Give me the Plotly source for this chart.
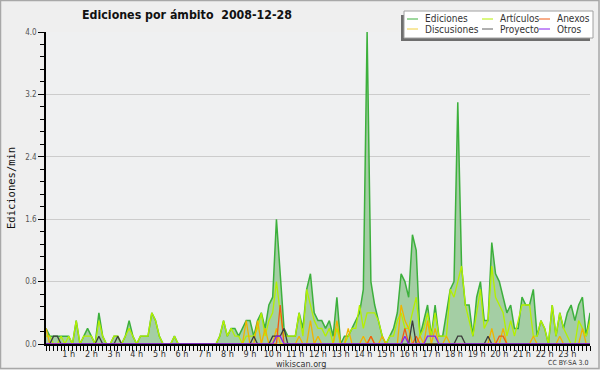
import plotly.graph_objects as go

# ---------------- data (10-minute bins, 00:00 .. 24:00) ----------------
n_points = 145
hours = [i / 6 for i in range(n_points)]

ediciones = [
    0.2, 0.1, 0.1, 0.1, 0.1, 0.1, 0.1, 0, 0.3, 0, 0.1, 0.2, 0.1, 0, 0.4, 0.1, 0, 0, 0.1, 0.1, 0, 0.1, 0.3, 0.1,
    0, 0.1, 0.1, 0.1, 0.4, 0.3, 0.1, 0, 0, 0, 0.1, 0, 0, 0, 0, 0, 0, 0, 0, 0, 0, 0, 0.1, 0.3,
    0.1, 0.2, 0.2, 0.1, 0.2, 0.3, 0.3, 0.1, 0.3, 0.4, 0.2, 0.5, 0.6, 1.6, 0.9, 0.2, 0.1, 0.1, 0.1, 0.4, 0.2, 0.7, 0.9, 0.4,
    0.3, 0.3, 0.2, 0.3, 0.1, 0.6, 0, 0.1, 0.1, 0.2, 0.3, 0.4, 0.7, 4.0, 0.8, 0.5, 0.3, 0.1, 0, 0.1, 0.2, 0.4, 0.9, 0.8,
    0.6, 1.4, 1.2, 0.1, 0.3, 0.5, 0.1, 0.5, 0.1, 0.1, 0.4, 0.7, 0.8, 3.1, 1.0, 0.5, 0.5, 0.1, 0.6, 0.8, 0.3, 0.3, 1.3, 0.9,
    0.8, 0.6, 0.4, 0.5, 0.2, 0.2, 0.6, 0.5, 0.5, 0.7, 0.1, 0.3, 0.2, 0, 0.5, 0.1, 0.4, 0.2, 0.4, 0.5, 0.3, 0.5, 0.6, 0.1,
    0.4,
]

articulos = [
    0.1, 0.1, 0, 0, 0.1, 0, 0.1, 0, 0.3, 0, 0.1, 0.1, 0.1, 0, 0.3, 0.1, 0, 0, 0.1, 0.1, 0, 0.1, 0.2, 0.1,
    0, 0.1, 0.1, 0.1, 0.4, 0.3, 0.1, 0, 0, 0, 0.1, 0, 0, 0, 0, 0, 0, 0, 0, 0, 0, 0, 0.1, 0.3,
    0.1, 0.2, 0.1, 0.1, 0, 0.1, 0.1, 0.1, 0.2, 0.4, 0.1, 0.3, 0.4, 0.8, 0.4, 0.1, 0.1, 0.1, 0.1, 0.4, 0.1, 0.7, 0.5, 0.3,
    0.2, 0.2, 0.1, 0.2, 0, 0.2, 0, 0, 0.1, 0.2, 0.2, 0.5, 0.2, 0.4, 0.4, 0.4, 0.3, 0.1, 0, 0.1, 0.1, 0.3, 0.4, 0.2,
    0.2, 0.4, 0.6, 0.1, 0.2, 0.4, 0.1, 0.4, 0.1, 0.1, 0.1, 0.7, 0.6, 0.8, 1.0, 0.5, 0.3, 0.1, 0.4, 0.7, 0.2, 0.3, 1.0, 0.6,
    0.5, 0.4, 0.1, 0.3, 0.1, 0.3, 0.5, 0.5, 0.5, 0.1, 0.1, 0.3, 0.2, 0, 0.5, 0.1, 0.4, 0.2, 0.1, 0, 0, 0.3, 0.2, 0.1,
    0.3,
]

# sparse series: bin index -> value
discusiones_idx = [0, 53, 56, 58, 61, 67, 70, 72, 77, 80, 84, 86, 89, 94, 95, 96, 99, 101, 103, 106, 118, 121, 129, 136, 142]
discusiones_val = [0.2, 0.3, 0.3, 0.2, 0.2, 0.1, 0.3, 0.1, 0.3, 0.2, 0.1, 0.1, 0.1, 0.5, 0.3, 0.2, 0.1, 0.3, 0.2, 0.1, 0.2, 0.2, 0.1, 0.1, 0.2]

anexos_idx = [62, 86, 95, 98, 120, 121]
anexos_val = [0.5, 0.1, 0.2, 0.1, 0.1, 0.1]

proyecto_idx = [2, 3, 14, 19, 55, 60, 61, 62, 63, 97, 109, 110, 117]
proyecto_val = [0.1, 0.1, 0.1, 0.1, 0.1, 0.1, 0.1, 0.1, 0.2, 0.3, 0.1, 0.1, 0.1]

otros_idx = [61, 62, 95, 101, 102, 103]
otros_val = [0.1, 0.1, 0.1, 0.1, 0.1, 0.1]

hour_ticks = list(range(1, 24))
hour_labels = [f"{h} h" for h in hour_ticks]
y_ticks = [0.0, 0.8, 1.6, 2.4, 3.2, 4.0]
y_labels = [f"{v:.1f}" for v in y_ticks]


def expand(idx, val):
    out = [0.0] * n_points
    for i, v in zip(idx, val):
        out[i] = v
    return out


discusiones = expand(discusiones_idx, discusiones_val)
anexos = expand(anexos_idx, anexos_val)
proyecto = expand(proyecto_idx, proyecto_val)
otros = expand(otros_idx, otros_val)

# ---------------- styling ----------------
W, H = 600, 370
L, R, T, B = 46, 10, 32, 26
PW, PH = W - L - R, H - T - B
COND = "DejaVu Sans Condensed, Liberation Sans Narrow, DejaVu Sans"

C_ED = "#3cb03c"
C_ED_FILL = "rgba(150,200,150,0.85)"
C_ART = "#b4f000"
C_DIS = "#f0b400"
C_ANE = "#f05a14"
C_PRO = "#3c3c3c"
C_OTR = "#8a1ef0"


def px(x):
    return (x - L) / PW


def py(y):
    return (H - B - y) / PH


fig = go.Figure()
fig.add_trace(go.Scatter(x=hours, y=ediciones, mode="lines", fill="tozeroy",
                         fillcolor=C_ED_FILL, line=dict(color=C_ED, width=1.5), name="Ediciones"))
for name, ys, col in [("Artículos", articulos, C_ART), ("Discusiones", discusiones, C_DIS),
                      ("Anexos", anexos, C_ANE), ("Proyecto", proyecto, C_PRO), ("Otros", otros, C_OTR)]:
    fig.add_trace(go.Scatter(x=hours, y=ys, mode="lines", line=dict(color=col, width=1.3), name=name))

shapes = []
annotations = []

# outer border of the image
shapes.append(dict(type="rect", xref="paper", yref="paper", x0=px(0.5), x1=px(599), y0=py(368.5), y1=py(0.5),
                   line=dict(color="#a8a8a8", width=1.5), layer="below"))

# legend box (with shadow)
lx0, lx1, ly0, ly1 = 404, 593, 11, 38
shapes.append(dict(type="rect", xref="paper", yref="paper", x0=px(401), x1=px(590), y0=py(41), y1=py(15),
                   fillcolor="#6e6e6e", line=dict(width=0), layer="above"))
shapes.append(dict(type="rect", xref="paper", yref="paper", x0=px(lx0), x1=px(lx1), y0=py(ly1), y1=py(ly0),
                   fillcolor="#ffffff", line=dict(color="#a0a0a0", width=1), layer="above"))
legend_items = [("Ediciones", C_ED, 407, 19), ("Artículos", C_ART, 482, 19), ("Anexos", C_ANE, 539, 19),
                ("Discusiones", "#f0d040", 407, 29), ("Proyecto", "#606060", 482, 29), ("Otros", C_OTR, 539, 29)]
for label, col, x0, yy in legend_items:
    shapes.append(dict(type="line", xref="paper", yref="paper", x0=px(x0), x1=px(x0 + 11), y0=py(yy), y1=py(yy),
                       line=dict(color=col, width=1), layer="above"))
    annotations.append(dict(text=label, xref="paper", yref="paper", x=px(x0 + 16), y=py(yy), xanchor="left",
                            yanchor="middle", showarrow=False,
                            font=dict(family=COND, size=10, color="#333333")))

# texts
annotations.append(dict(text="Ediciones/min", xref="paper", yref="paper", x=px(11), y=py(188), textangle=-90,
                        showarrow=False, xanchor="center", yanchor="middle",
                        font=dict(family="DejaVu Sans Mono", size=10.5, color="#111111")))
annotations.append(dict(text="wikiscan.org", xref="paper", yref="paper", x=px(301), y=py(363.5), showarrow=False,
                        xanchor="center", yanchor="middle", font=dict(family=COND, size=9, color="#333333")))
annotations.append(dict(text="CC BY-SA 3.0", xref="paper", yref="paper", x=px(590), y=py(363), showarrow=False,
                        xanchor="right", yanchor="middle", font=dict(family=COND, size=7, color="#333333")))

fig.update_layout(
    width=W, height=H,
    margin=dict(l=L, r=R, t=T, b=B),
    paper_bgcolor="#efefef",
    plot_bgcolor="#eff0f1",
    showlegend=False,
    title=dict(text="<b>Ediciones por ámbito  2008-12-28</b>", x=187 / W, xanchor="center", xref="container",
               y=1 - 15 / H, yanchor="middle", yref="container",
               font=dict(family=COND, size=12.3, color="#111111")),
    shapes=shapes,
    annotations=annotations,
)

# hour labels sit on (almost) the hour; the tick marks come from the 10-minute minor ticks
fig.update_xaxes(range=[0, 24], tickmode="array", tickvals=[h + 1e-4 for h in hour_ticks], ticktext=hour_labels,
                 tickangle=0, ticks="", showline=True, linecolor="#000000", linewidth=1.5, showgrid=False,
                 zeroline=False, tickfont=dict(family=COND, size=9, color="#333333"),
                 minor=dict(tick0=0, dtick=1 / 6, ticks="outside", ticklen=5, tickcolor="#000000", tickwidth=1,
                            showgrid=False))
fig.update_yaxes(range=[0, 4.0], tickmode="array", tickvals=y_ticks, ticktext=y_labels,
                 ticks="outside", ticklen=6, tickcolor="#000000", tickwidth=1,
                 showline=True, linecolor="#000000", linewidth=1.5,
                 showgrid=True, gridcolor="#cccccc", gridwidth=1, zeroline=False,
                 tickfont=dict(family=COND, size=8, color="#555555"),
                 minor=dict(tick0=0, dtick=0.16, ticks="outside", ticklen=4, tickcolor="#000000", tickwidth=1,
                            showgrid=False))

fig.write_html("out.html", config={"displayModeBar": False},
               post_script="document.body.style.margin='0';document.body.style.overflow='hidden';")
